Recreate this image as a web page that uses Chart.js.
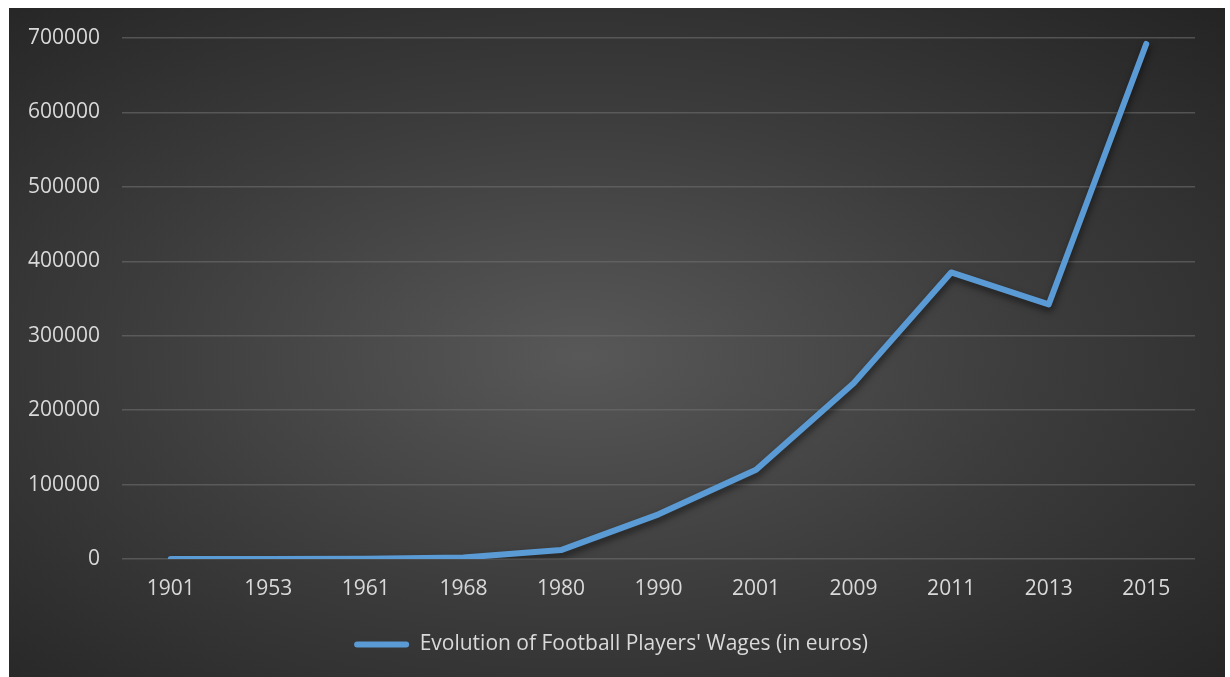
<!DOCTYPE html>
<html>
<head>
<meta charset="utf-8">
<script src="https://cdn.jsdelivr.net/npm/chart.js@4.4.0/dist/chart.umd.min.js"></script>
<style>
  html, body { margin: 0; padding: 0; background: #ffffff; }
  #wrap {
    position: absolute; left: 9px; top: 8px; width: 1216px; height: 669px;
    background: radial-gradient(ellipse farthest-corner at 47% 52%, #585858 0%, #3c3c3c 50%, #242424 100%);
  }
  canvas { display: block; }
</style>
</head>
<body>
<div id="wrap"><canvas id="c" width="1216" height="669"></canvas></div>
<script>
const categories = ['1901', '1953', '1961', '1968', '1980', '1990', '2001', '2009', '2011', '2013', '2015'];
const wages = [0, 0, 500, 2000, 12000, 60000, 120000, 236000, 385000, 342000, 692000];
const seriesLabel = "Evolution of Football Players' Wages (in euros)";
const yMin = 0, yMax = 700000, yStep = 100000;

const shadowPlugin = {
  id: 'lineShadow',
  beforeDatasetsDraw(chart) {
    const ctx = chart.ctx;
    ctx.save();
    ctx.shadowColor = 'rgba(0,0,0,0.55)';
    ctx.shadowBlur = 7;
    ctx.shadowOffsetX = 1;
    ctx.shadowOffsetY = 4;
  },
  afterDatasetsDraw(chart) {
    chart.ctx.restore();
  }
};

const txt = '#d9d9d9';
new Chart(document.getElementById('c'), {
  type: 'line',
  data: {
    labels: categories,
    datasets: [{
      label: seriesLabel,
      data: wages,
      borderColor: '#5b9bd5',
      backgroundColor: '#5b9bd5',
      borderWidth: 6,
      borderCapStyle: 'round',
      borderJoinStyle: 'round',
      pointRadius: 0,
      tension: 0,
      fill: false
    }]
  },
  options: {
    responsive: false,
    animation: false,
    layout: { padding: { left: 18, right: 30, top: 30, bottom: 12 } },
    scales: {
      x: {
        offset: true,
        grid: { display: false, drawTicks: false },
        border: { display: false },
        ticks: { color: txt, font: { family: 'Open Sans', size: 21 }, padding: 17, maxRotation: 0 },
        afterFit: (s) => { s.height = 53; s.paddingLeft = 0; s.paddingRight = 0; }
      },
      y: {
        min: yMin, max: yMax,
        grid: { color: 'rgba(110,110,110,0.6)', lineWidth: 1.5, drawTicks: false },
        border: { display: false },
        ticks: {
          stepSize: yStep, color: txt, font: { family: 'Open Sans', size: 21 }, padding: 22,
          callback: (v) => String(v)
        },
        afterFit: (s) => { s.width = 95; s.paddingTop = 0; s.paddingBottom = 0; }
      }
    },
    plugins: {
      legend: {
        position: 'bottom',
        labels: {
          color: txt,
          font: { family: 'Open Sans', size: 21 },
          boxWidth: 55,
          boxHeight: 6,
          padding: 22,
          useBorderRadius: true,
          borderRadius: 3,
          generateLabels(chart) {
            return chart.data.datasets.map((ds, i) => ({
              text: ds.label,
              fillStyle: ds.borderColor,
              strokeStyle: ds.borderColor,
              lineWidth: 0,
              fontColor: txt,
              borderRadius: 3,
              datasetIndex: i
            }));
          }
        }
      },
      tooltip: { enabled: false }
    }
  },
  plugins: [shadowPlugin]
});
</script>
</body>
</html>
